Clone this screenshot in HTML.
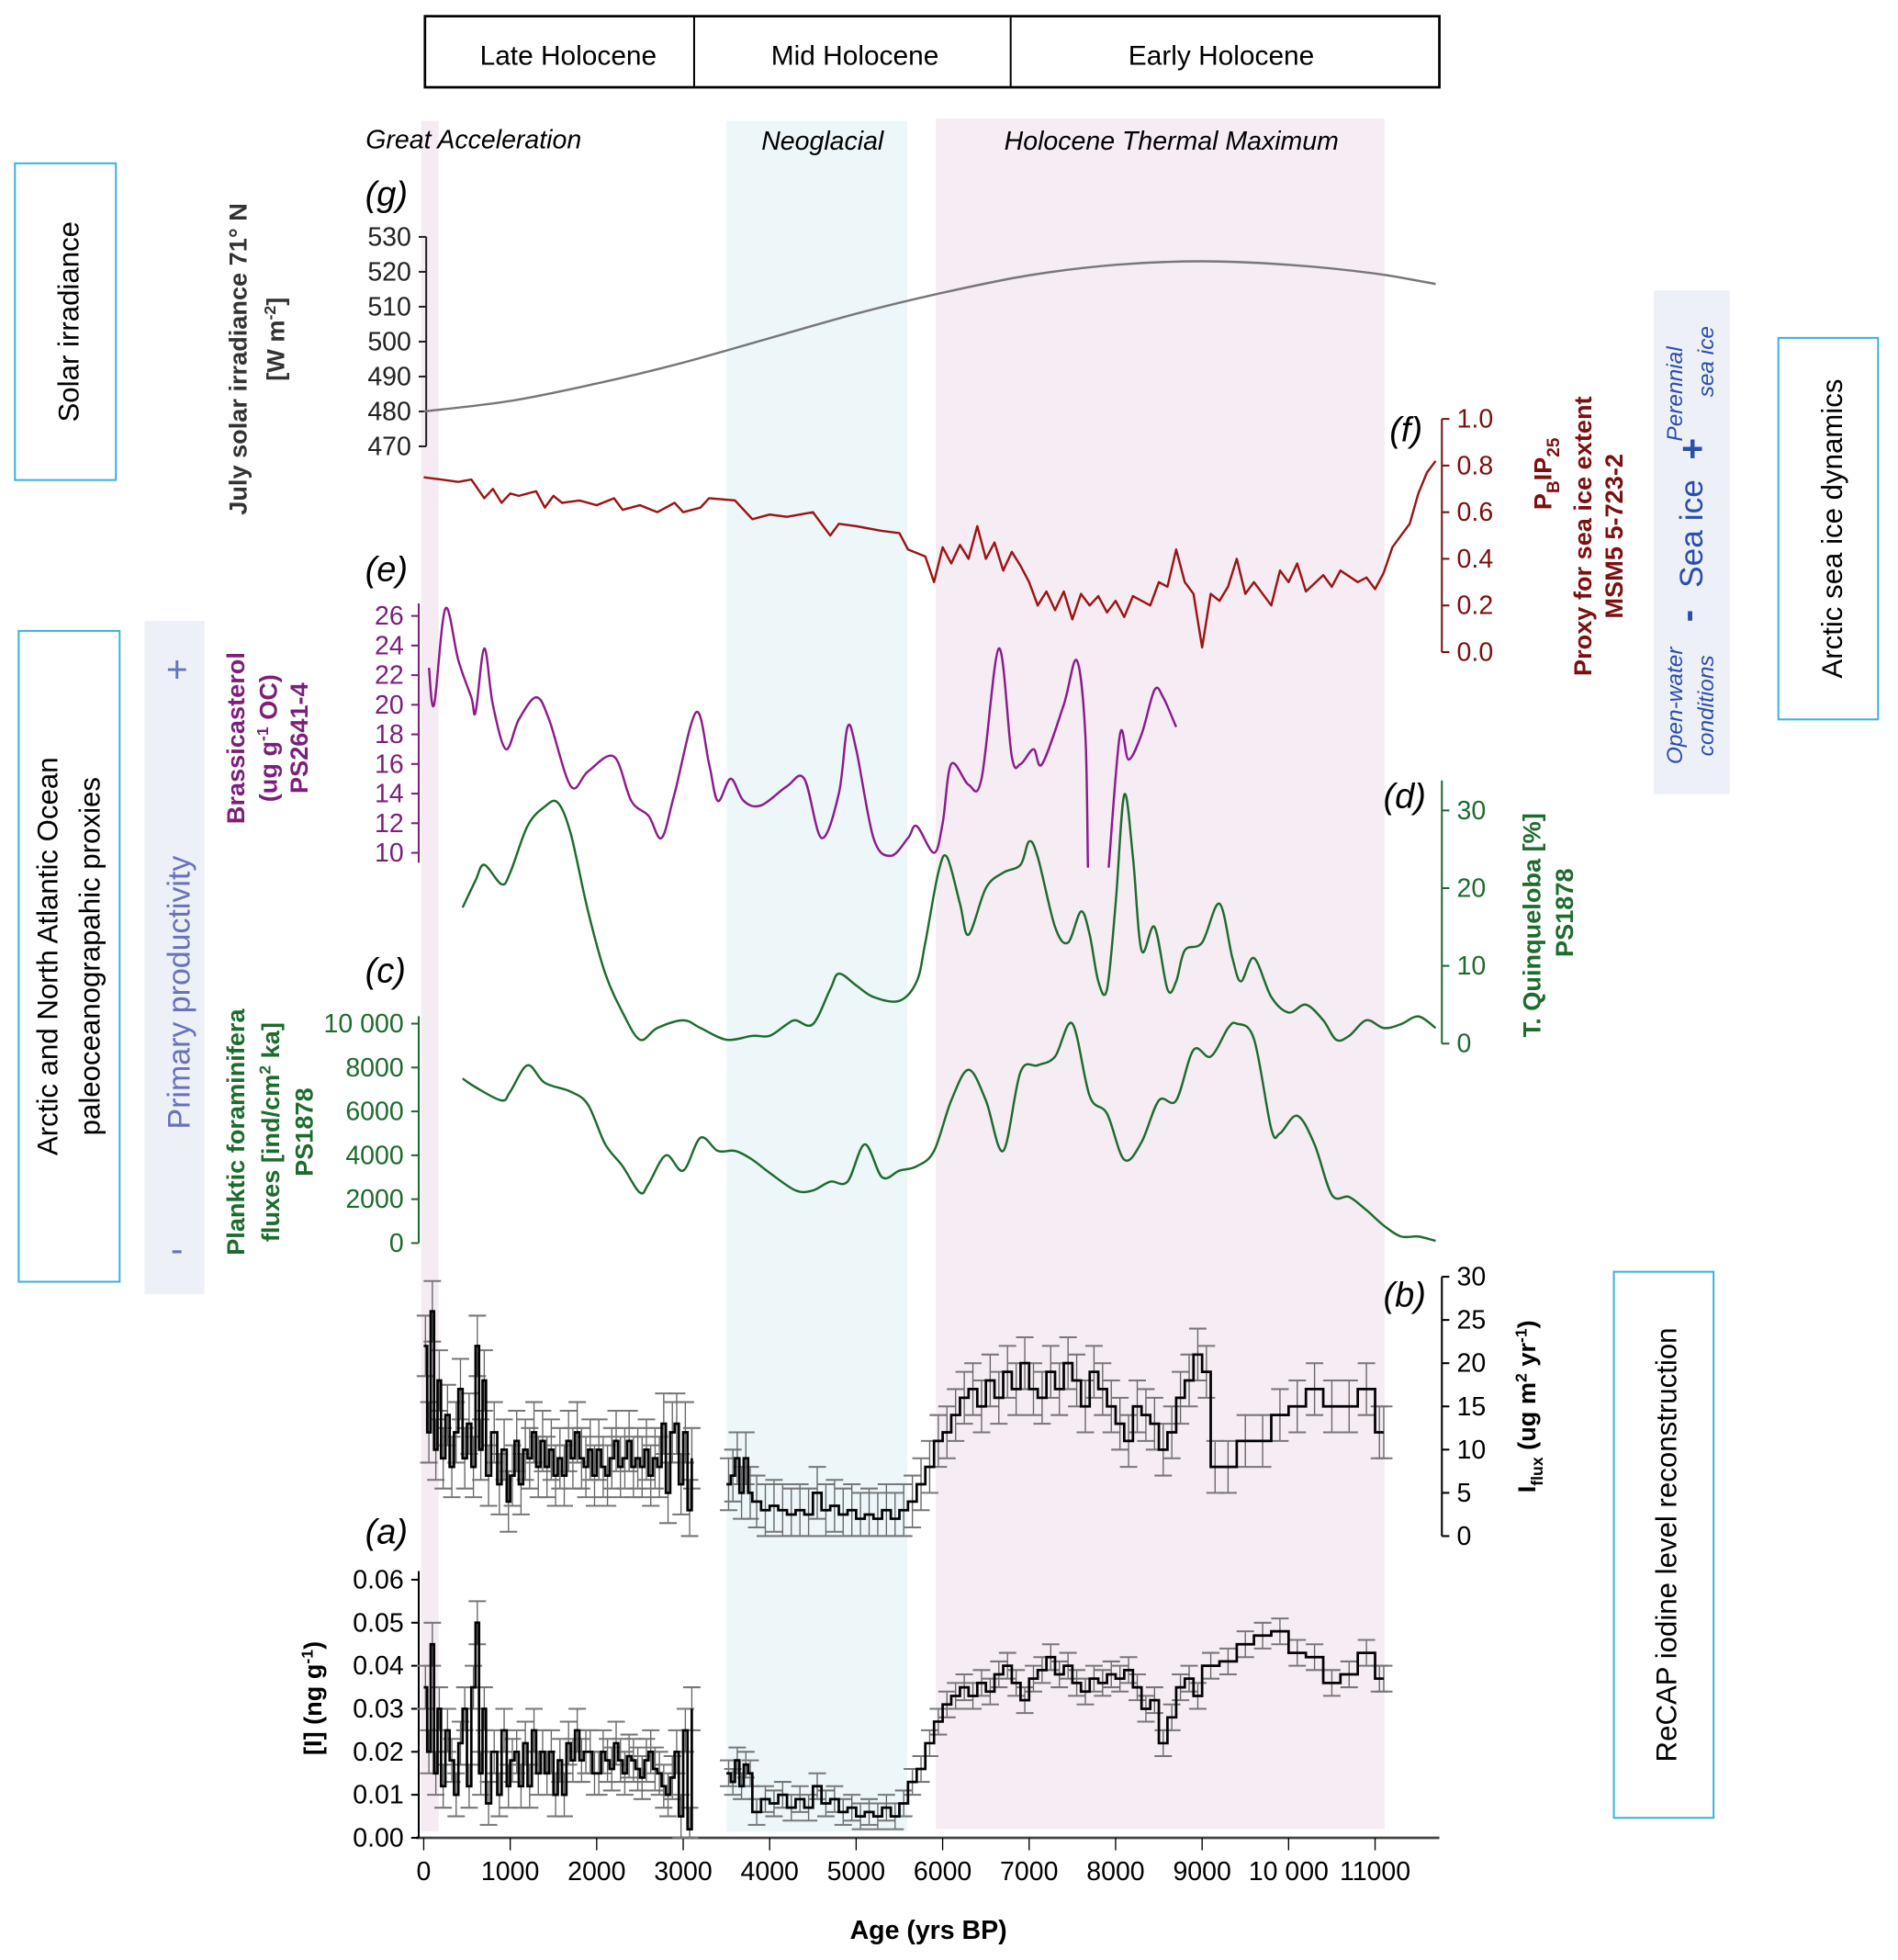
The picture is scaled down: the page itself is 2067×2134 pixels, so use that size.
<!DOCTYPE html>
<html><head><meta charset="utf-8">
<style>
html,body{margin:0;padding:0;background:#fff;}
svg{display:block;}
text{font-family:"Liberation Sans",sans-serif;}
.tk{font-family:"Liberation Sans Narrow","Liberation Sans",sans-serif;font-size:21px;}
.lab{font-style:italic;font-size:28px;}
</style></head>
<body>
<svg id="fig" xmlns="http://www.w3.org/2000/svg" width="2067" height="2134" viewBox="0 0 1523 1572" preserveAspectRatio="none">
<!-- header -->
<g>
<rect x="341" y="13" width="814" height="57" fill="none" stroke="#000" stroke-width="2"/>
<line x1="557" y1="13" x2="557" y2="70" stroke="#000" stroke-width="1.5"/>
<line x1="811" y1="13" x2="811" y2="70" stroke="#000" stroke-width="1.5"/>
<text x="456" y="52" text-anchor="middle" font-size="22">Late Holocene</text>
<text x="686" y="52" text-anchor="middle" font-size="22">Mid Holocene</text>
<text x="980" y="52" text-anchor="middle" font-size="22">Early Holocene</text>
</g>
<!-- bands -->
<rect x="338" y="97" width="14" height="1372" fill="#f5ebf3"/>
<rect x="583" y="97" width="145" height="1372" fill="#edf6f9"/>
<rect x="751" y="95" width="360" height="1372" fill="#f5ecf4"/>
<text x="380" y="119" text-anchor="middle" font-size="21" font-style="italic">Great Acceleration</text>
<text x="660" y="120" text-anchor="middle" font-size="21" font-style="italic">Neoglacial</text>
<text x="940" y="120" text-anchor="middle" font-size="21" font-style="italic">Holocene Thermal Maximum</text>

<!-- side boxes -->
<g>
<rect x="12" y="131" width="81" height="254" fill="none" stroke="#3bb3d9" stroke-width="1.5"/>
<text transform="translate(63,258) rotate(-90)" text-anchor="middle" font-size="23">Solar irradiance</text>
</g>
<g>
<rect x="15" y="506" width="81" height="522" fill="none" stroke="#3bb3d9" stroke-width="1.5"/>
<text transform="translate(46,767) rotate(-90)" text-anchor="middle" font-size="23">Arctic  and North Atlantic Ocean</text>
<text transform="translate(80,767) rotate(-90)" text-anchor="middle" font-size="23">paleoceanograpahic proxies</text>
</g>
<g>
<rect x="116" y="498" width="48" height="540" fill="#eef0f7"/>
<text x="142" y="547" text-anchor="middle" font-size="30" fill="#6673b8">+</text>
<text transform="translate(152,796) rotate(-90)" text-anchor="middle" font-size="25" fill="#6673b8">Primary productivity</text>
<text x="142" y="1012" text-anchor="middle" font-size="30" fill="#6673b8">-</text>
</g>
<g>
<rect x="1327" y="233" width="61" height="404" fill="#eef0f7"/>
<text transform="translate(1350,316) rotate(-90)" text-anchor="middle" font-size="18" font-style="italic" fill="#2a4fa8">Perennial</text>
<text transform="translate(1375,290) rotate(-90)" text-anchor="middle" font-size="18" font-style="italic" fill="#2a4fa8">sea ice</text>
<text transform="translate(1368,360) rotate(-90)" text-anchor="middle" font-size="30" font-weight="bold" fill="#2a4fa8">+</text>
<text transform="translate(1366,428) rotate(-90)" text-anchor="middle" font-size="26" fill="#2a4fa8">Sea ice</text>
<text transform="translate(1364,494) rotate(-90)" text-anchor="middle" font-size="30" font-weight="bold" fill="#2a4fa8">-</text>
<text transform="translate(1350,566) rotate(-90)" text-anchor="middle" font-size="18" font-style="italic" fill="#2a4fa8">Open-water</text>
<text transform="translate(1375,566) rotate(-90)" text-anchor="middle" font-size="18" font-style="italic" fill="#2a4fa8">conditions</text>
</g>
<g>
<rect x="1427" y="271" width="80" height="306" fill="none" stroke="#3bb3d9" stroke-width="1.5"/>
<text transform="translate(1478,424) rotate(-90)" text-anchor="middle" font-size="23">Arctic sea ice dynamics</text>
</g>
<g>
<rect x="1295" y="1020" width="80" height="438" fill="none" stroke="#3bb3d9" stroke-width="1.5"/>
<text transform="translate(1345,1239) rotate(-90)" text-anchor="middle" font-size="23">ReCAP iodine level reconstruction</text>
</g>

<!-- axis titles -->
<g font-weight="bold" font-size="20">
<text transform="translate(198,288) rotate(-90)" text-anchor="middle" fill="#333">July solar irradiance 71° N</text>
<text transform="translate(228,272) rotate(-90)" text-anchor="middle" fill="#333">[W m<tspan font-size="13" dy="-7">-2</tspan><tspan dy="7">]</tspan></text>
<text transform="translate(1245,380) rotate(-90)" text-anchor="middle" fill="#7a1010">P<tspan font-size="14" dy="6">B</tspan><tspan dy="-6">IP</tspan><tspan font-size="14" dy="6">25</tspan></text>
<text transform="translate(1277,430) rotate(-90)" text-anchor="middle" fill="#7a1010">Proxy for sea ice extent</text>
<text transform="translate(1302,430) rotate(-90)" text-anchor="middle" fill="#7a1010">MSM5 5-723-2</text>
<text transform="translate(196,592) rotate(-90)" text-anchor="middle" fill="#7b1f7b">Brassicasterol</text>
<text transform="translate(222,592) rotate(-90)" text-anchor="middle" fill="#7b1f7b">(ug g<tspan font-size="13" dy="-7">-1</tspan><tspan dy="7"> OC)</tspan></text>
<text transform="translate(247,592) rotate(-90)" text-anchor="middle" fill="#7b1f7b">PS2641-4</text>
<text transform="translate(1236,742) rotate(-90)" text-anchor="middle" fill="#1e6b2e">T. Quinqueloba [%]</text>
<text transform="translate(1262,732) rotate(-90)" text-anchor="middle" fill="#1e6b2e">PS1878</text>
<text transform="translate(196,908) rotate(-90)" text-anchor="middle" fill="#1e6b2e">Planktic foraminifera</text>
<text transform="translate(224,908) rotate(-90)" text-anchor="middle" fill="#1e6b2e">fluxes [ind/cm<tspan font-size="13" dy="-7">2</tspan><tspan dy="7"> ka]</tspan></text>
<text transform="translate(251,908) rotate(-90)" text-anchor="middle" fill="#1e6b2e">PS1878</text>
<text transform="translate(1232,1128) rotate(-90)" text-anchor="middle" fill="#000">I<tspan font-size="13" dy="6">flux</tspan><tspan dy="-6"> (ug m</tspan><tspan font-size="13" dy="-7">2</tspan><tspan dy="7"> yr</tspan><tspan font-size="13" dy="-7">-1</tspan><tspan dy="7">)</tspan></text>
<text transform="translate(258,1362) rotate(-90)" text-anchor="middle" fill="#000">[I] (ng g<tspan font-size="13" dy="-7">-1</tspan><tspan dy="7">)</tspan></text>
<text x="745" y="1555" text-anchor="middle" font-size="21">Age (yrs BP)</text>
</g>

<!-- panel labels -->
<g class="lab">
<text x="293" y="165">(g)</text>
<text x="1115" y="354">(f)</text>
<text x="293" y="466">(e)</text>
<text x="1110" y="648">(d)</text>
<text x="293" y="788">(c)</text>
<text x="1110" y="1048">(b)</text>
<text x="293" y="1238">(a)</text>
</g>
<g id="plots"></g>
</svg>
<script>
const ageTicks=[0,1000,2000,3000,4000,5000,6000,7000,8000,9000,10000,11000];
const ageTickLabels=["0","1000","2000","3000","4000","5000","6000","7000","8000","9000","10 000","11000"];
const solarAge=[0,1000,2000,3000,4000,5000,6000,7000,8000,9000,10000,11000,11700];
const solarVal=[480,483,488,494,501,508,514,519,522,523,522,519.5,516.5];
const solarTicks=[470,480,490,500,510,520,530];
const iceAge=[0,200,400,550,700,800,900,1000,1100,1300,1400,1500,1600,1800,2000,2200,2300,2500,2700,2900,3000,3200,3300,3600,3800,4000,4200,4500,4700,4800,5000,5300,5500,5600,5800,5900,6000,6100,6200,6300,6400,6500,6600,6700,6800,6900,7000,7100,7200,7300,7400,7500,7600,7700,7800,7900,8000,8100,8200,8400,8500,8600,8700,8800,8900,9000,9100,9200,9300,9400,9500,9600,9800,9900,10000,10100,10200,10400,10500,10600,10800,10900,11000,11100,11200,11300,11400,11500,11600,11700];
const iceVal=[.75,.74,.73,.74,.66,.70,.64,.68,.67,.69,.62,.67,.64,.65,.63,.66,.61,.63,.60,.64,.60,.62,.66,.65,.57,.59,.58,.60,.50,.55,.54,.52,.51,.44,.41,.30,.45,.38,.46,.40,.54,.40,.47,.35,.43,.37,.30,.20,.26,.18,.26,.14,.25,.20,.24,.17,.22,.15,.24,.20,.30,.28,.44,.30,.25,.02,.25,.22,.28,.40,.25,.30,.20,.35,.30,.38,.26,.33,.28,.35,.30,.32,.27,.34,.45,.50,.55,.68,.77,.82];
const iceTicks=[0,0.2,0.4,0.6,0.8,1.0];
const brasAgeA=[60,120,250,400,550,600,700,800,950,1100,1300,1450,1700,1900,2200,2400,2600,2750,2900,3150,3300,3400,3550,3700,3900,4200,4400,4600,4800,4900,5000,5200,5400,5600,5700,5900,6000,6100,6300,6450,6650,6800,6900,7050,7150,7400,7550,7650,7680];
const brasValA=[22.5,20,26.5,23,20.5,19.5,23.8,20,17,19,20.5,19,14.5,15.5,16.5,13.5,12.5,11,14,19.5,16,13.5,15,13.5,13.2,14.5,15,11,14,18.5,17,11,9.8,11,11.8,10,12,16,14.6,15,23.8,16.5,16,17,16,20,23,18,9];
const brasAgeB=[7920,8050,8150,8300,8450,8550,8700];
const brasValB=[9,18,16.3,18,21,20.5,18.5];
const brasTicks=[10,12,14,16,18,20,22,24,26];
const quinAge=[450,600,700,900,1000,1200,1400,1550,1700,1900,2100,2300,2500,2700,3000,3200,3500,3800,4000,4200,4300,4500,4700,4800,5000,5200,5500,5700,5800,5950,6050,6200,6300,6500,6700,6900,7000,7100,7300,7450,7600,7700,7800,7900,8000,8100,8200,8300,8450,8600,8700,8800,9000,9200,9350,9450,9600,9800,10000,10200,10400,10550,10700,10900,11100,11300,11500,11700];
const quinVal=[17.5,21,23,20.5,22,28,30.5,31,27,17,9,4,0.5,2,3,2,0.5,1,1,2.5,3,2.5,7,9,7.5,6,5.5,8,13,22,24,18,14,20,22,23,26,24,15,13,17,14,8,7,18,32,24,12,15,7,8,12,13,18,11,8,11,6,4,5,3,0.5,1,3,2,2.5,3.5,2];
const quinTicks=[0,10,20,30];
const foraAge=[450,600,900,1000,1200,1400,1700,1900,2100,2300,2500,2600,2800,3000,3200,3400,3600,3800,4000,4300,4500,4700,4900,5100,5300,5500,5700,5900,6100,6300,6500,6700,6900,7100,7300,7500,7700,7900,8100,8300,8500,8700,8900,9100,9300,9400,9600,9800,9900,10100,10300,10500,10700,10900,11100,11300,11500,11700];
const foraVal=[7500,7100,6500,6900,8100,7300,6900,6300,4500,3500,2300,2700,4000,3300,4800,4200,4200,3800,3200,2400,2400,2800,2800,4500,3000,3300,3500,4200,6500,7900,6500,4200,7800,8100,8500,10000,6700,5900,3800,4600,6500,6500,8800,8500,9800,10000,9300,5200,5000,5800,4500,2200,2100,1500,800,300,300,100];
const foraTicks=[0,2000,4000,6000,8000,10000];
const foraTickLabels=["0","2000","4000","6000","8000","10 000"];
const ifluxAgeA=[0,40,80,120,160,200,250,300,350,400,450,500,550,600,640,680,720,780,850,900,960,1000,1050,1100,1150,1200,1250,1300,1350,1400,1450,1500,1550,1600,1650,1700,1750,1800,1850,1900,1950,2000,2050,2100,2150,2200,2250,2300,2350,2400,2450,2500,2550,2600,2650,2700,2750,2800,2850,2900,2950,3000,3050,3100];
const ifluxValA=[22,12,26,10,18,9,14,8,12,17,9,13,8,22,10,18,7,12,6,10,4,7,11,6,10,9,12,8,11,8,10,7,9,7,11,9,12,9,8,10,7,10,8,7,9,11,8,9,11,8,9,8,10,7,9,8,13,5,12,13,6,12,3,9];
const ifluxAgeB=[3500,3550,3600,3650,3700,3750,3800,3900,4000,4100,4200,4300,4400,4500,4600,4700,4800,4900,5000,5100,5200,5300,5400,5500,5600,5700,5800,5900,6000,6100,6200,6300,6400,6500,6600,6700,6800,6900,7000,7100,7200,7300,7400,7500,7600,7700,7800,7900,8000,8100,8200,8300,8400,8500,8600,8700,8800,8900,9000,9100,9200,9400,9600,9800,10000,10200,10400,10600,10800,11000,11100];
const ifluxValB=[6,7,9,5,9,5,4,3,3.5,3,2.5,3,2.5,5,3,3.5,2.5,3,2,2.5,2,3,2,3,4,6,8,11,12,14,16,17,15,18,16,19,17,20,17,16,19,17,20,18,15,19,17,15,13,11,15,14,13,10,12,16,18,21,19,8,8,11,11,14,15,17,15,15,17,12,12];
const ifluxTicks=[0,5,10,15,20,25,30];
const iodAgeA=[0,40,80,120,160,200,250,300,350,400,450,500,550,600,640,680,720,780,850,900,960,1000,1050,1100,1150,1200,1250,1300,1350,1400,1450,1500,1550,1600,1650,1700,1750,1800,1850,1900,1950,2000,2050,2100,2150,2200,2250,2300,2350,2400,2450,2500,2550,2600,2650,2700,2750,2800,2850,2900,2950,3000,3050,3100];
const iodValA=[.035,.02,.045,.015,.03,.012,.025,.018,.01,.022,.03,.012,.035,.05,.015,.03,.008,.02,.01,.025,.012,.018,.02,.012,.022,.012,.025,.015,.02,.015,.02,.01,.018,.01,.022,.018,.025,.018,.02,.02,.015,.015,.02,.018,.016,.022,.018,.015,.019,.018,.016,.014,.018,.02,.016,.015,.012,.01,.014,.02,.005,.025,.002,.03];
const iodAgeB=[3500,3550,3600,3650,3700,3750,3800,3900,4000,4100,4200,4300,4400,4500,4600,4700,4800,4900,5000,5100,5200,5300,5400,5500,5600,5700,5800,5900,6000,6100,6200,6300,6400,6500,6600,6700,6800,6900,7000,7100,7200,7300,7400,7500,7600,7700,7800,7900,8000,8100,8200,8300,8400,8500,8600,8700,8800,8900,9000,9200,9400,9600,9800,10000,10200,10400,10600,10800,11000,11100];
const iodValB=[.015,.013,.018,.012,.017,.015,.006,.009,.008,.01,.007,.009,.007,.012,.008,.009,.006,.007,.005,.006,.005,.007,.005,.008,.013,.016,.022,.027,.031,.033,.035,.033,.036,.034,.038,.04,.036,.032,.037,.039,.042,.038,.04,.036,.034,.037,.036,.038,.037,.039,.035,.03,.032,.022,.028,.035,.037,.033,.04,.041,.045,.047,.048,.043,.042,.036,.038,.043,.037,.037];
const iodTicks=[0,0.01,0.02,0.03,0.04,0.05,0.06];

const NS="http://www.w3.org/2000/svg";
const G=document.getElementById('plots');
function X(a){return 340+a*0.0694;}
function lin(v0,v1,p0,p1){return v=>p0+(v-v0)/(v1-v0)*(p1-p0);}
function mk(tag,attrs,parent){const e=document.createElementNS(NS,tag);for(const k in attrs)e.setAttribute(k,attrs[k]);(parent||G).appendChild(e);return e;}
function smooth(xs,ys){let d="M"+xs[0].toFixed(1)+","+ys[0].toFixed(1);for(let i=0;i<xs.length-1;i++){const x0=xs[i-1]??xs[i],y0=ys[i-1]??ys[i],x3=xs[i+2]??xs[i+1],y3=ys[i+2]??ys[i+1];const c1x=xs[i]+(xs[i+1]-x0)/6,c1y=ys[i]+(ys[i+1]-y0)/6,c2x=xs[i+1]-(x3-xs[i])/6,c2y=ys[i+1]-(y3-ys[i])/6;d+=` C${c1x.toFixed(1)},${c1y.toFixed(1)} ${c2x.toFixed(1)},${c2y.toFixed(1)} ${xs[i+1].toFixed(1)},${ys[i+1].toFixed(1)}`;}return d;}
function axis(x,y0,y1,ticks,Y,side,color,labels,name){
  const g=mk('g',{});
  
  
  mk('line',{x1:x,y1:y0,x2:x,y2:y1,stroke:color,'stroke-width':1.5},g);
  ticks.forEach((t,i)=>{const y=Y(t);const dx=side==='left'?-6:6;
    mk('line',{x1:x,y1:y,x2:x+dx,y2:y,stroke:color,'stroke-width':1.5},g);
    const tx=mk('text',{x:side==='left'?x-12:x+12,y:y+7,'text-anchor':side==='left'?'end':'start',fill:color,class:'tk'},g);
    tx.textContent=labels?labels[i]:String(t);
  });
}
// x axis
(function(){
  const g=mk('g',{});
  
  
  mk('line',{x1:334,y1:1474,x2:1155,y2:1474,stroke:'#444','stroke-width':2},g);
  ageTicks.forEach((t,i)=>{mk('line',{x1:X(t),y1:1474,x2:X(t),y2:1484,stroke:'#000','stroke-width':1},g);
    const tx=mk('text',{x:X(t),y:1508,'text-anchor':'middle',class:'tk'},g);tx.textContent=ageTickLabels[i];});
})();
// g solar
const Ys=lin(470,530,358,190);
axis(342,190,358,solarTicks,Ys,'left','#222',null,'solar-y-axis');
let p=mk('path',{d:smooth(solarAge.map(X),solarVal.map(Ys)),fill:'none',stroke:'#777','stroke-width':1.8});


// f sea ice
const Yi=lin(0,1,523,336);
axis(1157,336,523,iceTicks,Yi,'right','#7a1010',iceTicks.map(v=>v.toFixed(1)),'seaice-y-axis');
p=mk('path',{d:'M'+iceAge.map((a,i)=>X(a).toFixed(1)+','+Yi(iceVal[i]).toFixed(1)).join(' L'),fill:'none',stroke:'#9a1515','stroke-width':1.8,'stroke-linejoin':'round'});


// e brassicasterol
const Yb=lin(10,26,684,494);
axis(336,484,692,brasTicks,Yb,'left','#7b1f7b',null,'brassicasterol-y-axis');
p=mk('path',{d:smooth(brasAgeA.map(X),brasValA.map(Yb))+' '+smooth(brasAgeB.map(X),brasValB.map(Yb)),fill:'none',stroke:'#8b1c8b','stroke-width':1.8});


// d quinqueloba
const Yq=lin(0,30,837,650);
axis(1157,626,837,quinTicks,Yq,'right','#1e6b2e',null,'quinqueloba-y-axis');
p=mk('path',{d:smooth(quinAge.map(X),quinVal.map(Yq)),fill:'none',stroke:'#1e6b2e','stroke-width':1.8});


// c foraminifera
const Yf=lin(0,10000,997,821);
axis(336,815,997,foraTicks,Yf,'left','#1e6b2e',foraTickLabels,'foraminifera-y-axis');
p=mk('path',{d:smooth(foraAge.map(X),foraVal.map(Yf)),fill:'none',stroke:'#1e6b2e','stroke-width':1.8});


// step + error bars
function stepPlot(ages,vals,Y,err,name){
  const g=mk('g',{});
  
  
  for(let i=0;i<ages.length;i++){
    const x=i<ages.length-1?(X(ages[i])+X(ages[i+1]))/2:X(ages[i]);
    const y1=Y(vals[i]+err),y2=Y(Math.max(0,vals[i]-err));
    mk('line',{x1:x,y1:y1,x2:x,y2:y2,stroke:'#666','stroke-width':1},g);
    mk('line',{x1:x-7,y1:y1,x2:x+7,y2:y1,stroke:'#777','stroke-width':1.5},g);
    mk('line',{x1:x-7,y1:y2,x2:x+7,y2:y2,stroke:'#777','stroke-width':1.5},g);
  }
  let d='M'+X(ages[0]).toFixed(1)+','+Y(vals[0]).toFixed(1);
  for(let i=0;i<ages.length-1;i++){d+=' H'+X(ages[i+1]).toFixed(1)+' V'+Y(vals[i+1]).toFixed(1);}
  mk('path',{d:d,fill:'none',stroke:'#000','stroke-width':2},g);
}
const Yx=lin(0,30,1232,1024);
axis(1157,1024,1232,ifluxTicks,Yx,'right','#000',null,'iflux-y-axis');
stepPlot(ifluxAgeA,ifluxValA,Yx,3.5,'iflux-series-late');
stepPlot(ifluxAgeB,ifluxValB,Yx,3,'iflux-series-early');
const Ya=lin(0,0.06,1474,1267);
axis(336,1260,1474,iodTicks,Ya,'left','#000',iodTicks.map(v=>v.toFixed(2)),'iodine-y-axis');
stepPlot(iodAgeA,iodValA,Ya,0.005,'iodine-series-late');
stepPlot(iodAgeB,iodValB,Ya,0.003,'iodine-series-early');
</script>
</body></html>
